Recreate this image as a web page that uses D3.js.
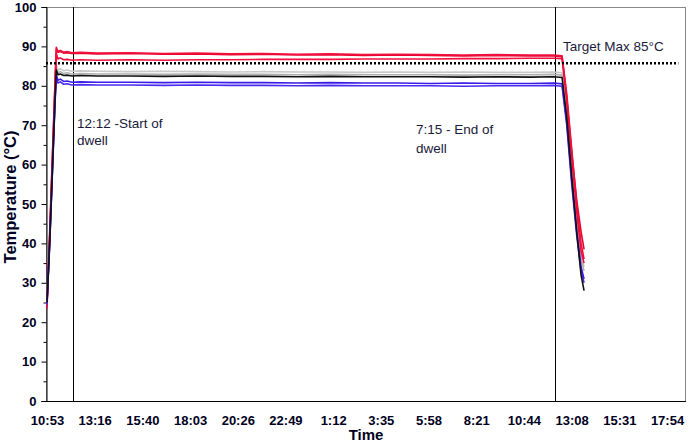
<!DOCTYPE html>
<html>

<head>
  <style>
    body {
      margin: 0;
      background: #fff;
    }

    .tick text {
      font-family: "Liberation Sans", Arial, sans-serif;
      font-size: 13px;
      font-weight: bold;
      fill: #000022;
    }

    .note {
      font-family: "Liberation Sans", Arial, sans-serif;
      font-size: 13.5px;
      fill: #1a1a3a;
    }

    .title {
      font-family: "Liberation Sans", Arial, sans-serif;
      font-weight: bold;
      fill: #000022;
    }
  </style>
</head>

<body>
  <svg id="chart" width="691" height="443"></svg>

  <script src="https://d3js.org/d3.v7.min.js"></script>
  <script>
    // minutes since 10:53
    const times = [0, 8, 16, 24, 28, 33, 40, 50, 60, 75, 100, 150, 250, 350, 450, 550, 650, 750, 850, 950, 1050, 1150, 1250, 1350, 1450, 1520, 1546, 1560, 1575, 1590, 1603, 1612];

    const red1 = [23.5, 43, 62, 81, 89.8, 88.7, 89.0, 88.5, 88.7, 88.4, 88.5, 88.3, 88.4, 88.2, 88.3, 88.1, 88.2, 88.0, 88.1, 87.9, 88.0, 87.9, 87.8, 87.9, 87.8, 87.8, 87.6, 78, 64, 50, 40, 36];
    const red2 = [24.5, 42, 61, 80, 89.3, 88.5, 88.7, 88.3, 88.4, 88.2, 88.3, 88.1, 88.2, 88.0, 88.1, 87.9, 88.0, 87.8, 87.9, 87.7, 87.8, 87.7, 87.6, 87.7, 87.6, 87.6, 87.4, 77, 63, 51, 43, 38.5];
    const red3 = [25, 41, 60, 79, 88.2, 86.8, 87.1, 86.6, 86.7, 86.5, 86.6, 86.5, 86.6, 86.5, 86.6, 86.6, 86.7, 86.7, 86.7, 86.8, 86.8, 86.8, 86.9, 86.9, 87.0, 87.0, 86.9, 76.5, 62, 48, 38, 35];
    const grey1 = [25.5, 41, 59, 78, 85.0, 84.0, 84.3, 83.8, 84.0, 83.7, 83.8, 83.7, 83.6, 83.7, 83.6, 83.5, 83.6, 83.5, 83.5, 83.4, 83.5, 83.4, 83.5, 83.4, 83.4, 83.5, 83.3, 74, 60, 47, 37, 34];
    const grey2 = [26, 40.5, 58.5, 77, 84.3, 83.3, 83.6, 83.1, 83.3, 83.0, 83.1, 83.0, 83.0, 82.9, 83.0, 82.9, 82.9, 82.8, 82.9, 82.8, 82.8, 82.8, 82.7, 82.8, 82.8, 82.9, 82.7, 73, 59, 46, 36, 33];
    const black1 = [25, 40, 58, 76.5, 84.0, 82.8, 83.0, 82.6, 82.7, 82.5, 82.6, 82.5, 82.5, 82.4, 82.5, 82.4, 82.4, 82.3, 82.4, 82.3, 82.3, 82.3, 82.2, 82.3, 82.2, 82.3, 82.1, 72, 57, 43, 32, 28];
    const blue1 = [25, 40, 58, 76, 82.8, 81.4, 81.7, 81.1, 81.2, 80.9, 81.0, 80.9, 80.9, 80.8, 80.9, 80.8, 80.8, 80.7, 80.8, 80.7, 80.7, 80.6, 80.7, 80.6, 80.6, 80.7, 80.5, 71, 56, 43, 34, 31];
    const blue2 = [24.5, 39.5, 57.5, 75.5, 82.0, 80.7, 81.0, 80.4, 80.5, 80.2, 80.3, 80.2, 80.2, 80.1, 80.2, 80.1, 80.1, 80.0, 80.1, 80.0, 80.0, 80.0, 79.9, 80.0, 80.0, 80.1, 79.9, 70, 55, 42, 33, 30];

    const timeLabels = ["10:53", "13:16", "15:40", "18:03", "20:26", "22:49", "1:12", "3:35", "5:58", "8:21", "10:44", "13:08", "15:31", "17:54"];
    const tickStep = 1861 / 13; // minutes between labels
    const dwellTimes = [77, 1525];
    const targetMax = 85.7;

    const svg = d3.select("#chart");
    const mLeft = 46, mTop = 7, mRight = 685, mBottom = 401;

    let x = d3.scaleLinear().domain([-3, 1915]).range([mLeft, mRight]);
    let y = d3.scaleLinear().domain([0, 100]).range([mBottom, mTop]);

    // plot frame
    svg.append("rect")
      .attr("x", mLeft + 0.5).attr("y", mTop + 0.5)
      .attr("width", mRight - mLeft).attr("height", mBottom - mTop)
      .attr("fill", "none").attr("stroke", "#888");

    // y axis, major and minor ticks
    svg.append("g")
      .attr("transform", "translate(" + (mLeft + 0.5) + ",0)")
      .call(d3.axisLeft(y).tickValues(d3.range(0, 101, 10)).tickSize(5).tickPadding(5))
      .call(g => g.selectAll("line, path").attr("stroke", "#000"));

    svg.append("g")
      .attr("transform", "translate(" + (mLeft + 0.5) + ",0)")
      .call(d3.axisLeft(y).tickValues(d3.range(5, 100, 10)).tickSize(3).tickFormat(""))
      .call(g => g.select(".domain").remove());

    // x axis, labels only
    svg.append("g")
      .attr("transform", "translate(0," + (mBottom + 0.5) + ")")
      .call(d3.axisBottom(x)
        .tickValues(d3.range(timeLabels.length).map(i => i * tickStep))
        .tickFormat((d, i) => timeLabels[i])
        .tickSize(0).tickPadding(14))
      .call(g => g.select(".domain").attr("stroke", "#000").attr("d", "M" + mLeft + ",0H" + (mRight + 1)));

    // dwell markers
    svg.selectAll(".dwell")
      .data(dwellTimes)
      .join("line")
      .attr("x1", d => Math.round(x(d)) + 0.5).attr("x2", d => Math.round(x(d)) + 0.5)
      .attr("y1", mTop).attr("y2", mBottom)
      .attr("stroke", "#000").attr("stroke-width", 1);

    // temperature traces
    const series = [
      { v: grey1, c: "#c8c8c8" },
      { v: grey2, c: "#b0b0b0" },
      { v: red3, c: "#f0103c" },
      { v: red2, c: "#e80030" },
      { v: red1, c: "#f0103c" },
      { v: blue2, c: "#4a2cf0" },
      { v: blue1, c: "#3a1ee8" },
      { v: black1, c: "#111" }
    ];

    const line = d3.line()
      .x((d, i) => x(times[i]))
      .y(d => y(d));

    svg.selectAll(".trace")
      .data(series)
      .join("path")
      .attr("d", d => line(d.v))
      .attr("fill", "none")
      .attr("stroke", d => d.c)
      .attr("stroke-width", 1.6)
      .attr("stroke-linejoin", "round");

    // target max
    svg.append("line")
      .attr("x1", mLeft).attr("x2", x(1895))
      .attr("y1", y(targetMax)).attr("y2", y(targetMax))
      .attr("stroke", "#000").attr("stroke-width", 2.5)
      .attr("stroke-dasharray", "2,2");

    svg.append("text").attr("class", "note").attr("x", 563).attr("y", 51).text("Target Max 85°C");
    svg.append("text").attr("class", "note").attr("x", 77).attr("y", 128).text("12:12 -Start of");
    svg.append("text").attr("class", "note").attr("x", 77).attr("y", 145).text("dwell");
    svg.append("text").attr("class", "note").attr("x", 416).attr("y", 134).text("7:15 - End of");
    svg.append("text").attr("class", "note").attr("x", 416).attr("y", 153).text("dwell");

    // axis titles
    svg.append("text").attr("class", "title")
      .attr("x", 366).attr("y", 440)
      .attr("text-anchor", "middle")
      .style("font-size", "15px")
      .text("Time");

    svg.append("text").attr("class", "title")
      .attr("transform", "translate(16,197) rotate(-90)")
      .attr("text-anchor", "middle")
      .style("font-size", "16.5px")
      .text("Temperature (°C)");
  </script>
</body>

</html>
